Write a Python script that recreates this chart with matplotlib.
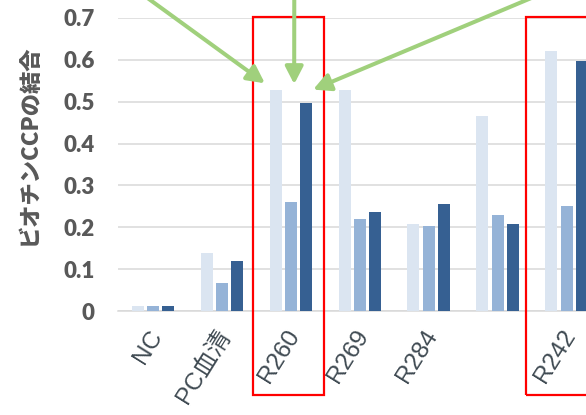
import matplotlib
matplotlib.use("Agg")
import matplotlib.pyplot as plt
import matplotlib.transforms as mtransforms
from matplotlib.patches import Rectangle
import numpy as np

# binding of biotin-CCP per sample, three measurements each
categories = ["NC", "PC血清", "R260", "R269", "R284", "", "R242"]
series_a = [0.011, 0.138, 0.529, 0.527, 0.209, 0.466, 0.621]
series_b = [0.011, 0.067, 0.260, 0.219, 0.204, 0.229, 0.252]
series_c = [0.011, 0.119, 0.498, 0.236, 0.256, 0.207, 0.597]
yticks = [0, 0.1, 0.2, 0.3, 0.4, 0.5, 0.6, 0.7]
ytick_labels = ["0", "0.1", "0.2", "0.3", "0.4", "0.5", "0.6", "0.7"]

colors = ["#dbe5f1", "#95b3d7", "#366092"]
grid_col = "#d9d9d9"
text_col = "#595959"
label_col = "#3f4a52"
green = "#a0d07c"

W, H = 586, 415
fig = plt.figure(figsize=(W / 100, H / 100), dpi=100)
ax = fig.add_axes([118 / W, 1 - 311 / H, 1 - 118 / W, (311 - 18) / H])

x = np.arange(len(categories))
width = 0.174
step = 0.222
for i, (vals, c) in enumerate(zip([series_a, series_b, series_c], colors)):
    ax.bar(x + (i - 1) * step, vals, width, color=c, zorder=3)

ax.set_xlim(-0.507, 6.28)
ax.set_ylim(0, 0.7)

ax.set_yticks(yticks)
ax.set_yticklabels(ytick_labels, fontfamily="Lato", fontweight="heavy",
                   fontsize=16, color=text_col)
ax.tick_params(axis="y", length=0, pad=17)
ax.grid(axis="y", color=grid_col, linewidth=1.1, zorder=0)
ax.set_axisbelow(True)

ax.set_xticks(x)
ax.set_xticklabels(categories, rotation=58, ha="right", va="center",
                   rotation_mode="anchor", fontsize=17.5, color=label_col,
                   fontfamily=["Liberation Sans", "Noto Sans CJK JP"])
ax.tick_params(axis="x", length=0, pad=15)
offset = mtransforms.ScaledTranslation(4 / 100, 0, fig.dpi_scale_trans)
for lab in ax.get_xticklabels():
    lab.set_transform(lab.get_transform() + offset)

for s in ["top", "right", "left"]:
    ax.spines[s].set_visible(False)
ax.spines["bottom"].set_color(grid_col)
ax.spines["bottom"].set_linewidth(1.1)

fig.text(29 / W, 1 - 145 / H, "ビオチンCCPの結合", rotation=90, ha="center",
         va="center", fontsize=16, fontweight="heavy", color=text_col,
         fontfamily=["Noto Sans CJK JP", "DejaVu Sans"])

# highlight boxes around R260 and R242
for left, right in [(1.449, 2.483), (5.416, 7.5)]:
    ax.add_patch(Rectangle((left, -0.2), right - left, 0.902, fill=False,
                           edgecolor="red", linewidth=1.6, clip_on=False,
                           zorder=5))

# arrows pointing at the R260 group
arrow_props = dict(arrowstyle="-|>,head_length=0.7,head_width=0.36",
                   mutation_scale=15, color=green, lw=2.9,
                   shrinkA=0, shrinkB=0)
for tip, tail in [((1.623, 0.544), (120, 437)),
                  ((2.048, 0.542), (294.3, 437)),
                  ((2.323, 0.529), (579, 437))]:
    ax.annotate("", xy=tip, xycoords="data", xytext=tail,
                textcoords="figure pixels", arrowprops=arrow_props,
                annotation_clip=False, zorder=6)

fig.savefig("out.png", dpi=100)
